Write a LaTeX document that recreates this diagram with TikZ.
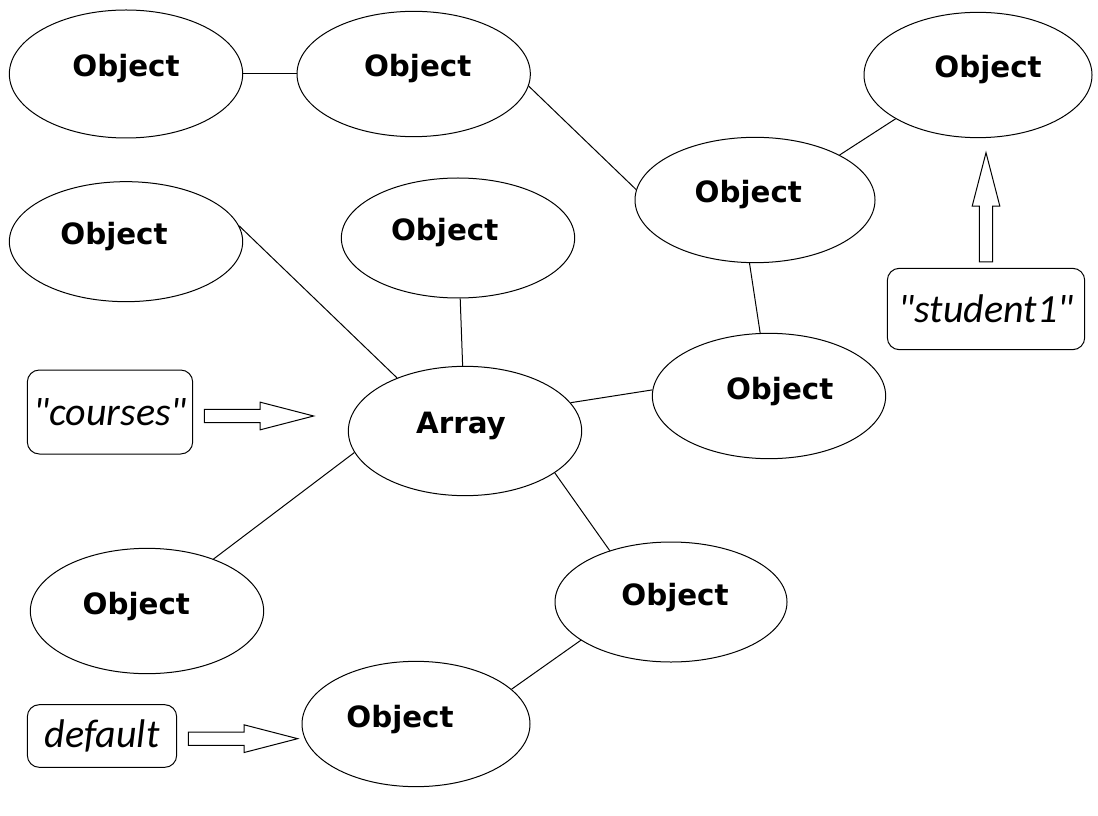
\documentclass[tikz,border=0pt]{standalone}
\usepackage{fontspec}
\newfontfamily\objfont{DejaVu Sans}
\newfontfamily\keyfont{Carlito}
\usetikzlibrary{%
  shapes.geometric,% wg. ellipse
  shapes.arrows,% wg. single arrow
  positioning% wg. " of "
}

\begin{document}
\begin{tikzpicture}[x=0.75pt,y=-0.75pt,line width=0.75pt,
    obj/.style={ellipse, draw, minimum width=175pt, minimum height=94pt, inner sep=0pt,
      font=\objfont\bfseries\fontsize{22}{26}\selectfont, text height=0.75em, text depth=0.3em},
    key/.style={draw, rounded corners=9pt, minimum width=124pt, minimum height=63pt,
      font=\keyfont\itshape\fontsize{30}{36}\selectfont},
    hollow/.style={single arrow, draw, inner xsep=0pt, inner ysep=4.6pt, minimum height=82pt,
      minimum width=0pt, single arrow head extend=5.4pt, single arrow tip angle=29}]
  \useasboundingbox (0,0) rectangle (1098,816);

  %top row
  \node[obj, minimum height=96pt] (obj1) at (126,74) {Object};
  \node[obj, right=40pt of obj1] (obj2) {\hspace*{6pt}Object};
  \node[obj, minimum width=171pt] (obj3) at (978,75) {\hspace*{15pt}Object};
  \node[obj, minimum width=180pt] (obj4) at (755,200) {Object\hspace*{10pt}};

  %second row
  \node[obj, minimum height=90pt, below=32pt of obj1] (obj5) {Object\hspace*{18pt}};
  \node[obj, minimum height=90pt] (obj6) at (458,238) {Object\hspace*{20pt}};

  %array in the middle
  \node[obj, minimum height=97pt, text depth=0.45em] (arr) at (465,431) {Array\hspace*{6pt}};
  \node[obj] (obj8) at (769,396) {\hspace*{16pt}Object};

  %lower part
  \node[obj] (obj9) at (147,611) {Object\hspace*{16pt}};
  \node[obj, minimum width=174pt, minimum height=90pt] (obj10) at (671,602) {\hspace*{6pt}Object};
  \node[obj, minimum width=171pt] (obj11) at (416,724) {Object\hspace*{24pt}};

  %keys
  \node[key] (courses) at (110,412) {"courses"};
  \node[hollow, right=8pt of courses, anchor=tail, yshift=-3pt] (arrcourses) {};
  \node[key, minimum width=112pt, minimum height=47pt] (default) at (102,736) {default};
  \node[hollow, right=8pt of default, anchor=tail, yshift=-2pt] (arrdefault) {};
  \node[key, minimum width=148pt, minimum height=61pt] (student1) at (986,309) {"student1"};
  \node[hollow, shape border rotate=90, inner xsep=4.6pt, inner ysep=0pt,
    above=4pt of student1, anchor=tail] (arrstudent1) {};

  \path[draw]
    (obj1) edge (obj2)
    (obj2.-6) edge (obj4.175)
    (obj4.28) edge (obj3.208)
    (obj4.-95) edge (obj8.98)
    (obj5.8) edge (arr.142)
    (obj6) edge (arr)
    (arr.15) edge (obj8.177)
    (arr.191) edge (obj9.38)
    (arr.-25) edge (obj10.140)
    (obj10.203) edge (obj11.20);
\end{tikzpicture}
\end{document}
